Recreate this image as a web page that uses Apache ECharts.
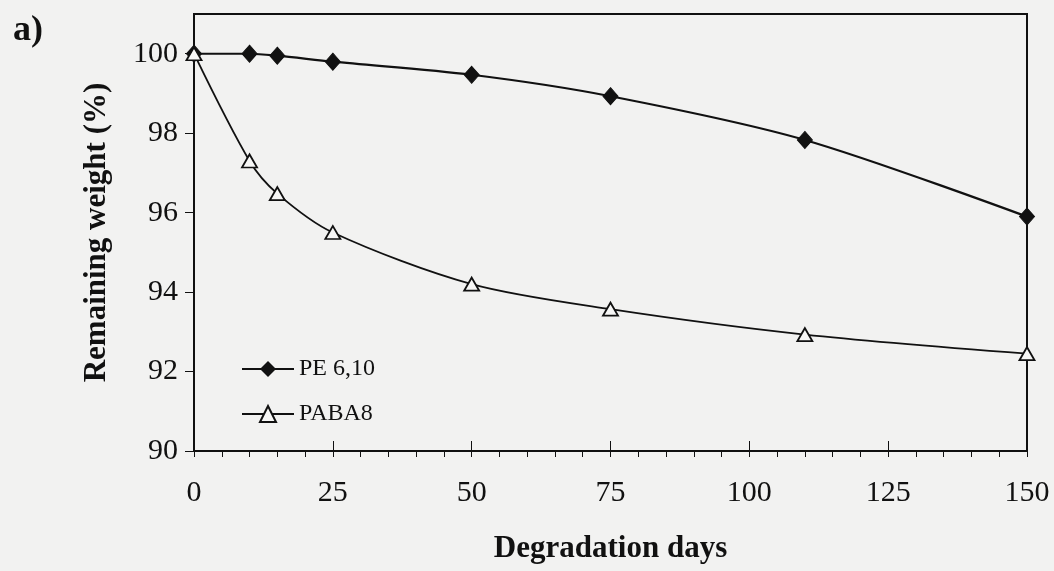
<!DOCTYPE html>
<html>
<head>
<meta charset="utf-8">
<script src="https://cdn.jsdelivr.net/npm/echarts@6/dist/echarts.min.js"></script>
<style>
  html, body { margin: 0; padding: 0; background: #f2f2f1; }
  #chart { width: 1054px; height: 571px; }
</style>
</head>
<body>
<div id="chart"></div>
<script>
// degradation days (x) and remaining weight (%)
var days = [0, 10, 15, 25, 50, 75, 110, 150]
var pe610 = [100, 100, 99.95, 99.8, 99.47, 98.93, 97.83, 95.9]
var paba8 = [100, 97.3, 96.48, 95.5, 94.2, 93.57, 92.93, 92.45]
var xTicks = [0, 25, 50, 75, 100, 125, 150]
var yTicks = [90, 92, 94, 96, 98, 100]

var font = 'Liberation Serif, Times New Roman, serif'

function pairs (xs, ys) {
  return xs.map(function (x, i) { return [x, ys[i]] })
}

var myChart = echarts.init(document.getElementById('chart'))
var option = {
  backgroundColor: '#f2f2f1',
  animation: false,
  title: {
    text: 'a)',
    left: 8,
    top: 8,
    textStyle: { fontFamily: font, fontSize: 36, fontWeight: 'bold', color: '#111' }
  },
  legend: {
    orient: 'vertical',
    left: 236,
    top: 352,
    itemWidth: 52,
    itemHeight: 20,
    itemGap: 21,
    textStyle: { fontFamily: font, fontSize: 24, color: '#111' },
    data: ['PE 6,10', 'PABA8']
  },
  grid: {
    left: 194,
    right: 27,
    top: 14,
    bottom: 120,
    show: true,
    borderColor: '#111',
    borderWidth: 2,
    backgroundColor: 'transparent'
  },
  xAxis: [{
    type: 'value',
    position: 'bottom',
    min: 0,
    max: 150,
    interval: 25,
    name: 'Degradation days',
    nameLocation: 'middle',
    nameGap: 82,
    nameTextStyle: { fontFamily: font, fontSize: 31, fontWeight: 'bold', color: '#111' },
    splitLine: { show: false },
    axisLine: { lineStyle: { color: '#111', width: 2 } },
    axisTick: { inside: true, length: 10, lineStyle: { color: '#111' }, customValues: xTicks },
    axisLabel: { margin: 27, fontFamily: font, fontSize: 30, color: '#111', customValues: xTicks }
  }, {
    type: 'value',
    position: 'bottom',
    min: 0,
    max: 150,
    interval: 5,
    splitLine: { show: false },
    axisLine: { show: false },
    axisTick: { inside: false, length: 6, lineStyle: { color: '#111' } },
    axisLabel: { show: false }
  }],
  yAxis: {
    type: 'value',
    min: 90,
    max: 101,
    interval: 2,
    name: 'Remaining weight (%)',
    nameLocation: 'middle',
    nameGap: 82,
    nameTextStyle: { fontFamily: font, fontSize: 31, fontWeight: 'bold', color: '#111' },
    splitLine: { show: false },
    axisLine: { lineStyle: { color: '#111', width: 2 } },
    axisTick: { inside: false, length: 9, lineStyle: { color: '#111' }, customValues: yTicks },
    axisLabel: { margin: 16, fontFamily: font, fontSize: 30, color: '#111', customValues: yTicks }
  },
  series: [{
    name: 'PE 6,10',
    type: 'line',
    xAxisIndex: 0,
    smooth: 0.3,
    symbol: 'diamond',
    symbolSize: [15, 17],
    lineStyle: { color: '#111', width: 2.2 },
    itemStyle: { color: '#111', borderColor: '#111' },
    data: pairs(days, pe610)
  }, {
    name: 'PABA8',
    type: 'line',
    xAxisIndex: 0,
    smooth: 0.3,
    symbol: 'triangle',
    symbolSize: [15, 13],
    lineStyle: { color: '#111', width: 1.8 },
    itemStyle: { color: '#f7f7f6', borderColor: '#111', borderWidth: 1.8 },
    data: pairs(days, paba8)
  }]
}
myChart.setOption(option)
</script>
</body>
</html>
